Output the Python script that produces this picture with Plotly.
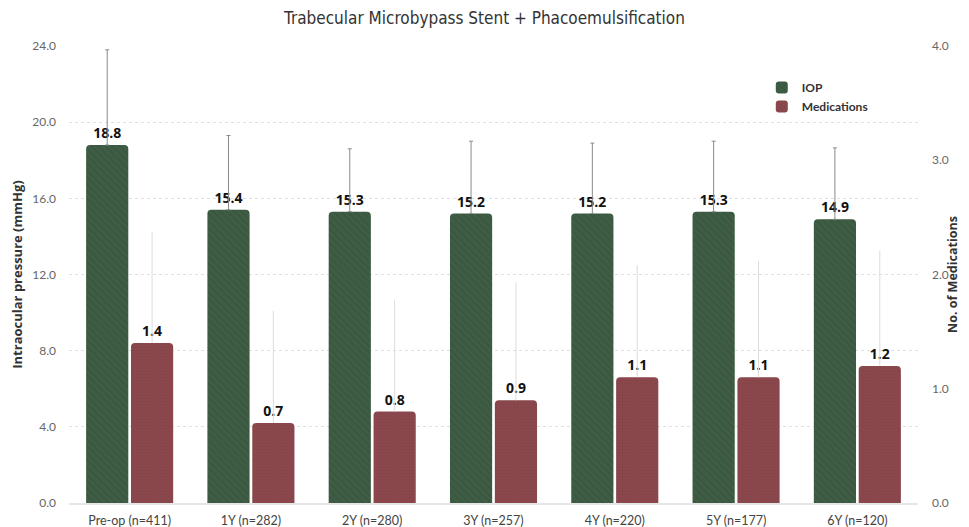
import plotly.graph_objects as go

categories = ["Pre-op (n=411)", "1Y (n=282)", "2Y (n=280)", "3Y (n=257)",
              "4Y (n=220)", "5Y (n=177)", "6Y (n=120)"]
iop_mean = [18.8, 15.4, 15.3, 15.2, 15.2, 15.3, 14.9]
iop_sd = [5.0, 3.9, 3.3, 3.8, 3.7, 3.7, 3.75]
med_mean = [1.4, 0.7, 0.8, 0.9, 1.1, 1.1, 1.2]
med_sd = [0.97, 0.98, 0.98, 1.03, 0.98, 1.02, 1.01]
left_ticks = [0, 4, 8, 12, 16, 20, 24]
right_ticks = [0, 1, 2, 3, 4]

IOP_COLOR = "#3e5d44"
MED_COLOR = "#8a474c"
LABEL_FONT = dict(family="Open Sans, Noto Sans, sans-serif", size=14, color="#111")

fig = go.Figure()
fig.add_trace(go.Bar(
    name="IOP", x=categories, y=iop_mean, yaxis="y",
    offsetgroup="a",
    marker=dict(color=IOP_COLOR, cornerradius=4, line=dict(width=0),
                pattern=dict(shape="\\", fgcolor="#34503a", size=5, solidity=0.35)),
    error_y=dict(type="data", symmetric=False, array=iop_sd,
                 arrayminus=[0] * len(iop_sd), color="#8a8a8a", thickness=1, width=2),
    text=[f"<b>{v:.1f}</b>" for v in iop_mean], textposition="outside",
    textfont=LABEL_FONT, cliponaxis=False,
))
fig.add_trace(go.Bar(
    name="Medications", x=categories, y=med_mean, yaxis="y2",
    offsetgroup="b",
    marker=dict(color=MED_COLOR, cornerradius=4, line=dict(width=0),
                pattern=dict(shape=".", fgcolor="#7e3f44", size=3, solidity=0.25)),
    error_y=dict(type="data", symmetric=False, array=med_sd,
                 arrayminus=[0] * len(med_sd), color="#dcdcdc", thickness=1, width=0),
    text=[f"<b>{v:.1f}</b>" for v in med_mean], textposition="outside",
    textfont=LABEL_FONT, cliponaxis=False,
))

fig.update_layout(
    width=953, height=519,
    paper_bgcolor="white", plot_bgcolor="white",
    margin=dict(l=61, r=43, t=38, b=24, autoexpand=False),
    barmode="group", bargap=0.26, bargroupgap=0.06,
    title=dict(text="Trabecular Microbypass Stent + Phacoemulsification",
               x=0.5, xanchor="center", y=0.981, yanchor="middle",
               font=dict(family="Liberation Sans Narrow, DejaVu Sans Condensed, Roboto, sans-serif",
                         size=17, color="#333")),
    font=dict(family="Lato, Noto Sans, sans-serif", color="#555"),
    xaxis=dict(showline=True, linecolor="#e6e6e6", linewidth=2, showgrid=False,
               ticks="", tickfont=dict(size=12.5, color="#444"), ticklabelstandoff=5,
               automargin=False),
    yaxis=dict(range=[0, 24], tickvals=left_ticks,
               ticktext=[f"{v:.1f}" for v in left_ticks],
               showgrid=True, gridcolor="#e0e0e0", griddash="dot", gridwidth=1,
               zeroline=False, showline=False, automargin=False,
               tickfont=dict(size=12, color="#666"), ticklabelstandoff=12,
               title=dict(text="<b>Intraocular pressure (mmHg)</b>",
                          font=dict(size=13, color="#333", family="Open Sans, sans-serif"),
                          standoff=8)),
    yaxis2=dict(range=[0, 4], tickvals=right_ticks,
                ticktext=[f"{v:.1f}" for v in right_ticks],
                overlaying="y", side="right", showgrid=False, zeroline=False,
                automargin=False,
                tickfont=dict(size=12, color="#666"), ticklabelstandoff=13,
                title=dict(text="<b>No. of Medications</b>",
                           font=dict(size=12.5, color="#333", family="Open Sans, sans-serif"),
                           standoff=0)),
    legend=dict(x=0.816, y=0.941, xanchor="left", yanchor="top",
                font=dict(size=12, color="#333", family="Lato, sans-serif", weight=700),
                bgcolor="rgba(0,0,0,0)", tracegroupgap=0, itemwidth=30),
    showlegend=True,
)

fig.write_html("out.html")
